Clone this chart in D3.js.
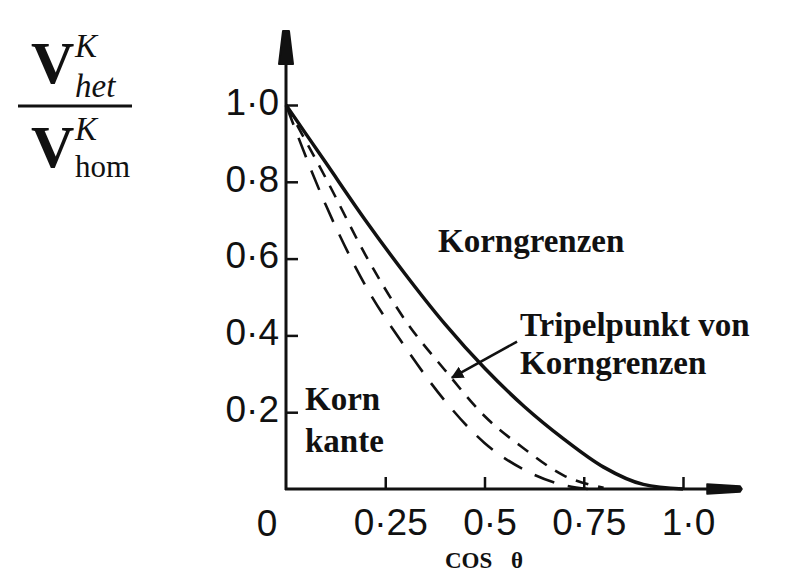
<script src="https://d3js.org/d3.v7.min.js"></script>
<style>
  body { margin: 0; background: #fff; }
  .serif { font-family: "Liberation Serif", "Times New Roman", serif; }
  .sans { font-family: "Liberation Sans", Arial, sans-serif; }
</style>
<svg id="chart" width="787" height="574"></svg>
<script>
  // values (cos theta -> V_het / V_hom)
  const cosGrenze = [0, 0.1, 0.2, 0.3, 0.4, 0.5, 0.6, 0.7, 0.8, 0.9, 1.0];
  const korngrenzen = [1.0, 0.85, 0.7, 0.56, 0.43, 0.315, 0.215, 0.13, 0.057, 0.012, 0];

  const cosTripel = [0, 0.1, 0.2, 0.3, 0.4, 0.5, 0.6, 0.7, 0.8];
  const tripelpunkt = [1.0, 0.81, 0.61, 0.44, 0.31, 0.19, 0.105, 0.035, 0.003];

  const cosKante = [0, 0.1, 0.2, 0.3, 0.4, 0.5, 0.6, 0.7, 0.76];
  const kornkante = [1.0, 0.74, 0.53, 0.37, 0.23, 0.12, 0.05, 0.01, 0];

  const yTicks = [0.2, 0.4, 0.6, 0.8, 1.0];
  const xTicks = [0.25, 0.5, 0.75, 1.0];
  const xTickLabels = ["0·25", "0·5", "0·75", "1·0"];

  let svg = d3.select("#chart");

  let x = d3.scaleLinear().domain([0, 1]).range([286, 683]);
  let y = d3.scaleLinear().domain([0, 1]).range([489, 105]);

  // y axis: ticks point inwards, labels on the left
  let yAxis = d3.axisLeft(y)
    .tickValues(yTicks)
    .tickSizeInner(-12)
    .tickSizeOuter(0)
    .tickPadding(7)
    .tickFormat(d => d3.format(".1f")(d).replace(".", "·"));
  let gy = svg.append("g").attr("transform", "translate(" + x(0) + ",0)").call(yAxis);
  gy.select(".domain").remove();
  gy.selectAll(".tick line").attr("stroke", "#111").attr("stroke-width", 2.5);
  gy.selectAll(".tick text")
    .attr("class", "sans")
    .attr("font-size", 37)
    .attr("fill", "#111")
    .attr("dy", "0.25em");

  let xAxis = d3.axisBottom(x)
    .tickValues(xTicks)
    .tickSizeInner(-12)
    .tickSizeOuter(0)
    .tickPadding(20)
    .tickFormat((d, i) => xTickLabels[i]);
  let gx = svg.append("g").attr("transform", "translate(0," + y(0) + ")").call(xAxis);
  gx.select(".domain").remove();
  gx.selectAll(".tick line").attr("stroke", "#111").attr("stroke-width", 2.5);
  gx.selectAll(".tick text")
    .attr("class", "sans")
    .attr("font-size", 37)
    .attr("fill", "#111")
    .attr("dx", 5);

  svg.append("text")
    .attr("class", "sans")
    .attr("x", x(0) - 19)
    .attr("y", 536)
    .attr("text-anchor", "middle")
    .attr("font-size", 37)
    .attr("fill", "#111")
    .text("0");

  // axis lines with arrow heads
  svg.append("line")
    .attr("x1", x(0)).attr("x2", x(0))
    .attr("y1", y(0) + 1).attr("y2", 62)
    .attr("stroke", "#111").attr("stroke-width", 3);
  svg.append("path")
    .attr("d", "M" + (x(0) - 3) + ",31 L" + (x(0) + 3) + ",31 L" + (x(0) + 7) + ",64 L" + (x(0) - 7) + ",64 Z")
    .attr("fill", "#111").attr("stroke", "#111").attr("stroke-width", 2).attr("stroke-linejoin", "round");

  svg.append("line")
    .attr("x1", x(0) - 1).attr("x2", 710)
    .attr("y1", y(0)).attr("y2", y(0))
    .attr("stroke", "#111").attr("stroke-width", 3);
  svg.append("path")
    .attr("d", "M707," + (y(0) - 5) + " L740," + (y(0) - 3) + " L742," + y(0) + " L740," + (y(0) + 3) + " L707," + (y(0) + 5) + " Z")
    .attr("fill", "#111").attr("stroke", "#111").attr("stroke-width", 1.5).attr("stroke-linejoin", "round");

  // curves
  let line = d3.line()
    .x(d => x(d[0]))
    .y(d => y(d[1]))
    .curve(d3.curveMonotoneX);

  svg.append("path")
    .attr("d", line(d3.zip(cosGrenze, korngrenzen)))
    .attr("fill", "none")
    .attr("stroke", "#111")
    .attr("stroke-width", 3.5);

  svg.append("path")
    .attr("d", line(d3.zip(cosTripel, tripelpunkt)))
    .attr("fill", "none")
    .attr("stroke", "#111")
    .attr("stroke-width", 2.6)
    .attr("stroke-dasharray", "13,10");

  svg.append("path")
    .attr("d", line(d3.zip(cosKante, kornkante)))
    .attr("fill", "none")
    .attr("stroke", "#111")
    .attr("stroke-width", 2.6)
    .attr("stroke-dasharray", "21,14");

  // annotation arrow to the triple point curve
  svg.append("defs").append("marker")
    .attr("id", "head")
    .attr("viewBox", "0 0 10 10")
    .attr("refX", 9).attr("refY", 5)
    .attr("markerWidth", 5).attr("markerHeight", 5)
    .attr("orient", "auto")
    .append("path")
    .attr("d", "M0,0 L10,5 L0,10 Z")
    .attr("fill", "#111");

  svg.append("line")
    .attr("x1", x(0.582)).attr("y1", y(0.384))
    .attr("x2", x(0.418)).attr("y2", y(0.29))
    .attr("stroke", "#111")
    .attr("stroke-width", 2.5)
    .attr("marker-end", "url(#head)");

  // labels
  let labels = [
    { t: "Korngrenzen", x: 438, y: 252 },
    { t: "Tripelpunkt von", x: 520, y: 336 },
    { t: "Korngrenzen", x: 520, y: 374 },
    { t: "Korn", x: 305, y: 410 },
    { t: "kante", x: 305, y: 452 },
  ];
  svg.selectAll(".lab")
    .data(labels)
    .join("text")
    .attr("class", "serif lab")
    .attr("x", d => d.x)
    .attr("y", d => d.y)
    .attr("font-size", 33)
    .attr("font-weight", "bold")
    .attr("fill", "#111")
    .text(d => d.t);

  svg.append("text")
    .attr("class", "serif")
    .attr("x", 445).attr("y", 568)
    .attr("font-size", 23)
    .attr("font-weight", "bold")
    .attr("fill", "#111")
    .text("COS");
  svg.append("text")
    .attr("class", "serif")
    .attr("x", 511).attr("y", 568)
    .attr("font-size", 23)
    .attr("font-weight", "bold")
    .attr("fill", "#111")
    .text("θ");

  // y label as a fraction
  let frac = svg.append("g").attr("class", "serif").attr("fill", "#111");
  frac.append("text").attr("x", 31).attr("y", 83).attr("font-size", 60).attr("font-weight", "bold").text("V");
  frac.append("text").attr("x", 75).attr("y", 57).attr("font-size", 33).attr("font-style", "italic").text("K");
  frac.append("text").attr("x", 75).attr("y", 97).attr("font-size", 33).attr("font-style", "italic").text("het");
  frac.append("line").attr("x1", 18).attr("x2", 132).attr("y1", 106).attr("y2", 106)
    .attr("stroke", "#111").attr("stroke-width", 3);
  frac.append("text").attr("x", 31).attr("y", 167).attr("font-size", 60).attr("font-weight", "bold").text("V");
  frac.append("text").attr("x", 75).attr("y", 140).attr("font-size", 33).attr("font-style", "italic").text("K");
  frac.append("text").attr("x", 75).attr("y", 177).attr("font-size", 31).text("hom");
</script>
